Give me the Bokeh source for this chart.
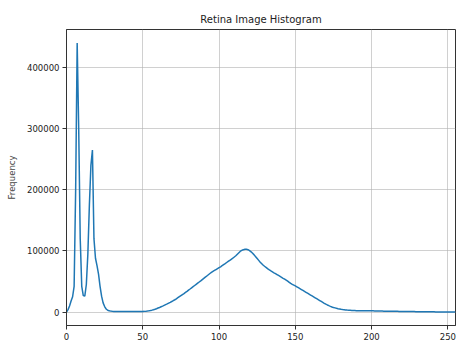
from bokeh.plotting import figure
from bokeh.models import Range1d, FixedTicker, BasicTickFormatter, Label
from bokeh.embed import file_html
from bokeh.resources import INLINE

title_text = "Retina Image Histogram"
x_label = "Pixel Value"
y_label = "Frequency"

x_ticks = [0, 50, 100, 150, 200, 250]
y_ticks = [0, 100000, 200000, 300000, 400000]

pixel_values = list(range(256))
counts = [
    0, 4000, 10000, 18000, 25000, 42000, 200000, 440000, 300000, 120000,
    42000, 27000, 26000, 45000, 95000, 175000, 240000, 265000, 120000, 88000,
    76000, 62000, 42000, 26000, 15000, 9000, 5000, 3000, 2000, 1500,
    1200, 1000, 900, 800, 800, 700, 700, 700, 700, 700,
    700, 700, 700, 700, 800, 800, 800, 900, 900, 950,
    1000, 1100, 1300, 1600, 2000, 2500, 3100, 3800, 4600, 5500,
    6500, 7500, 8600, 9700, 10900, 12100, 13300, 14600, 15900, 17200,
    18600, 20100, 21700, 23400, 25100, 26800, 28500, 30200, 32000, 33800,
    35900, 37700, 39600, 41500, 43400, 45300, 47200, 49100, 51000, 53000,
    55000, 57000, 59000, 61000, 63000, 64800, 66500, 68000, 69500, 71000,
    72500, 74000, 75800, 77500, 79200, 81000, 82800, 84500, 86300, 88000,
    90000, 92000, 94500, 97000, 99500, 101000, 102000, 102500, 102500, 102000,
    100500, 98500, 96000, 93500, 90500, 87500, 84500, 81500, 79000, 76500,
    74500, 72500, 70500, 68800, 67200, 65700, 64200, 62800, 61300, 59800,
    58300, 56800, 55200, 53700, 52100, 50400, 48600, 46800, 45200, 44000,
    42800, 41300, 39800, 38300, 36800, 35300, 33800, 32300, 30800, 29300,
    27800, 26300, 24800, 23300, 21800, 20300, 18800, 17300, 15800, 14300,
    12900, 11600, 10400, 9300, 8300, 7500, 6800, 6100, 5500, 5000,
    4500, 4100, 3800, 3500, 3200, 3000, 2800, 2600, 2500, 2400,
    2300, 2300, 2300, 2200, 2200, 2200, 2200, 2200, 2200, 2200,
    2100, 2000, 1900, 1800, 1800, 1700, 1600, 1600, 1500, 1500,
    1400, 1400, 1300, 1300, 1200, 1200, 1100, 1100, 1000, 1000,
    900, 900, 900, 800, 800, 800, 700, 700, 700, 600,
    600, 600, 500, 500, 500, 400, 400, 400, 300, 300,
    300, 300, 200, 200, 200, 200, 200, 100, 100, 100,
    100, 100, 100, 100, 50, 0,
]

FONT = "DejaVu Sans"

p = figure(
    width=457, height=347,
    x_range=Range1d(0, 255), y_range=Range1d(-22000, 462000),
    output_backend="svg", toolbar_location=None,
    min_border_left=66, min_border_right=2, min_border_top=29, min_border_bottom=22,
)
p.background_fill_color = "white"
p.border_fill_color = "white"
p.outline_line_color = "#333333"
p.outline_line_width = 1

p.title.text = title_text
p.title.align = "center"
p.title.text_font = FONT
p.title.text_font_size = "10px"
p.title.text_font_style = "normal"
p.title.text_color = "#222222"

p.line(pixel_values, counts, line_color="#1f77b4", line_width=1.5)

p.xaxis.ticker = FixedTicker(ticks=x_ticks)
p.yaxis.ticker = FixedTicker(ticks=y_ticks)
p.yaxis.formatter = BasicTickFormatter(use_scientific=False)
p.yaxis.axis_label = y_label
p.yaxis.axis_label_text_font = FONT
p.yaxis.axis_label_text_font_size = "8.5px"
p.yaxis.axis_label_text_font_style = "normal"
p.yaxis.axis_label_standoff = 7

for ax in (p.xaxis[0], p.yaxis[0]):
    ax.major_label_text_font = FONT
    ax.major_label_text_font_size = "8.5px"
    ax.major_label_text_color = "#222222"
    ax.axis_line_color = "#333333"
    ax.major_tick_line_color = "#333333"
    ax.major_tick_out = 4
    ax.major_tick_in = 0
    ax.minor_tick_line_color = None
    ax.major_label_standoff = 3

p.xgrid.grid_line_color = "#b0b0b0"
p.xgrid.grid_line_alpha = 0.6
p.ygrid.grid_line_color = "#b0b0b0"
p.ygrid.grid_line_alpha = 0.6

xl = Label(x=127.5, y=-22000, y_offset=-11, text=x_label, text_font=FONT,
           text_font_size="8.5px", text_align="center", text_baseline="top",
           text_color="#222222")
p.add_layout(xl)

open("out.html", "w").write(file_html(p, INLINE))
